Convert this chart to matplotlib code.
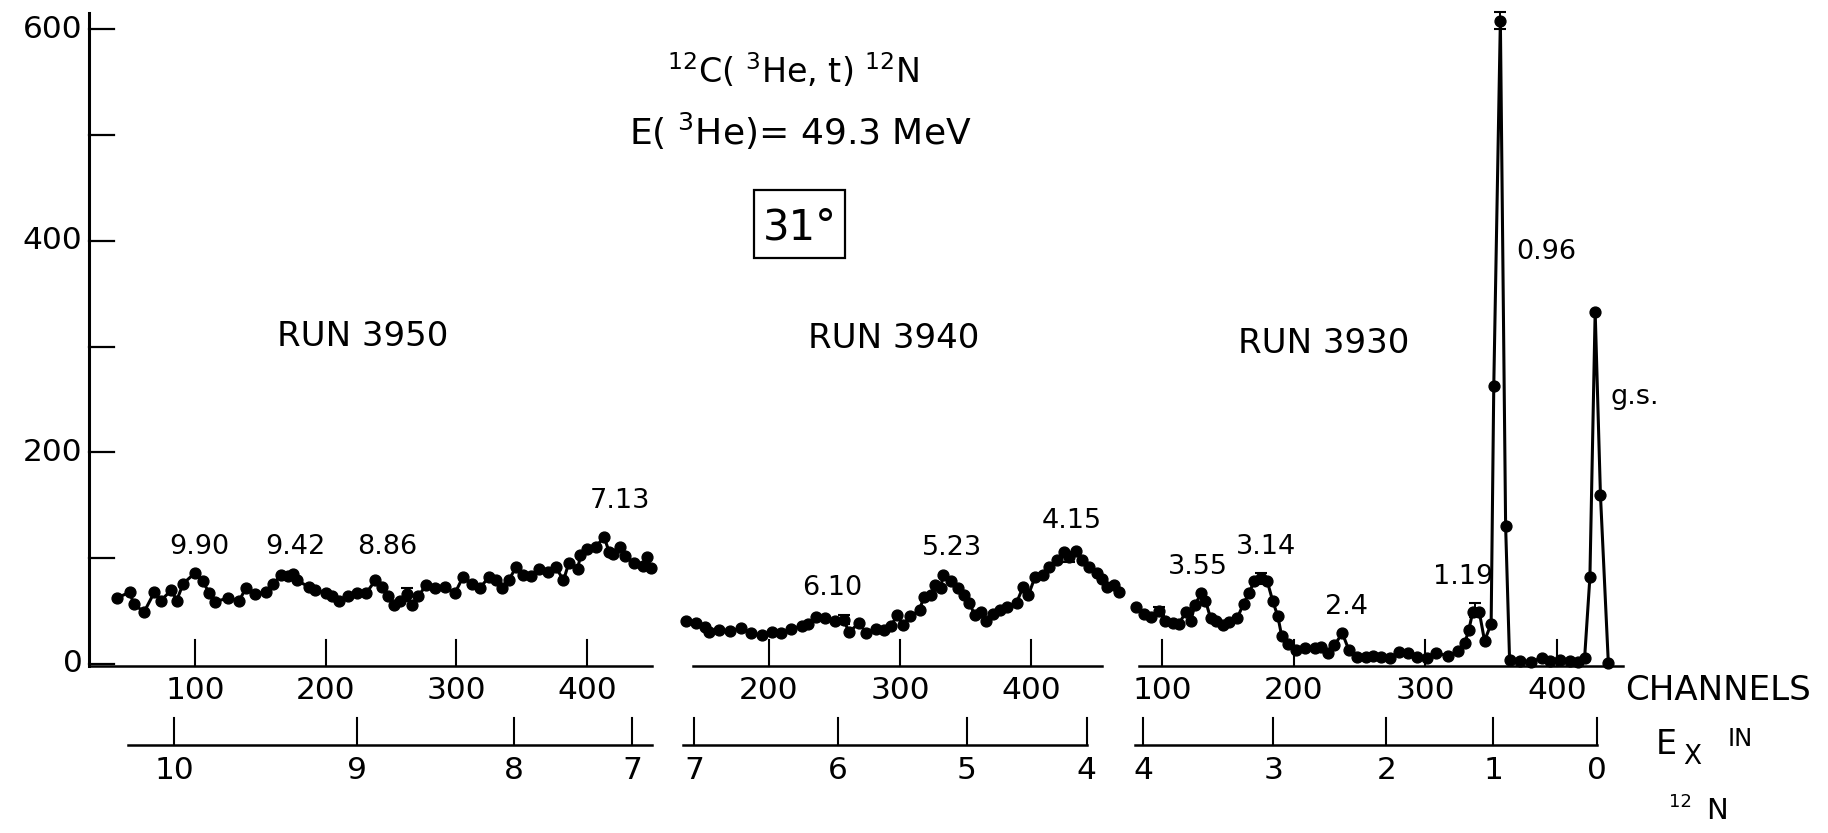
import matplotlib
matplotlib.use("Agg")
import matplotlib.pyplot as plt
from matplotlib.patches import Rectangle

plt.rcParams.update({
    "font.family": ["DejaVu Sans"],
    "mathtext.fontset": "dejavusans",
})

# ---------------------------------------------------------------------------
# Data: (channel, counts) for each run
# ---------------------------------------------------------------------------
RUN1_CH = [40, 50, 53, 61, 69, 74, 82, 86, 91, 100, 106, 111, 115, 125, 134, 139,
           146, 154, 160, 166, 171, 175, 178, 187, 192, 200, 205, 210, 217, 224,
           231, 238, 243, 248, 252, 257, 262, 266, 271, 277, 284, 291, 299, 305,
           312, 318, 325, 330, 335, 340, 346, 351, 357, 363, 370, 376, 382, 386,
           393, 395, 400, 407, 413, 417, 420, 425, 429, 436, 443, 446, 449]
RUN1_CT = [62, 68, 57, 49, 68, 60, 70, 60, 76, 86, 78, 67, 59, 62, 60, 72,
           66, 68, 76, 84, 83, 85, 79, 73, 70, 67, 64, 60, 64, 67,
           67, 79, 73, 64, 56, 60, 66, 56, 64, 75, 72, 73, 67, 82,
           76, 72, 82, 79, 72, 79, 92, 84, 83, 90, 87, 92, 79, 95,
           90, 103, 109, 111, 120, 106, 104, 111, 102, 95, 93, 101, 91]

RUN2_CH = [137, 144, 151, 154, 162, 170, 179, 186, 195, 202, 209, 217, 225, 230,
           236, 243, 250, 257, 261, 269, 274, 282, 288, 293, 298, 302, 308, 315,
           318, 324, 327, 331, 333, 339, 344, 349, 353, 357, 362, 366, 371, 376,
           382, 389, 394, 398, 403, 409, 414, 420, 425, 429, 434, 439, 444, 450,
           454, 458, 463, 467]
RUN2_CT = [41, 39, 35, 30, 32, 31, 34, 29, 27, 30, 29, 33, 36, 38,
           44, 43, 41, 42, 30, 39, 29, 33, 32, 36, 46, 37, 45, 51,
           63, 65, 75, 72, 84, 78, 72, 65, 58, 46, 49, 41, 47, 51,
           54, 58, 73, 65, 82, 84, 92, 98, 106, 101, 107, 98, 92, 86,
           80, 73, 75, 68]

RUN3_CH = [80, 86, 92, 98, 102, 108, 113, 118, 122, 125, 130, 133, 137, 141, 146,
           151, 157, 162, 166, 170, 175, 180, 184, 188, 191, 196, 202, 209, 216,
           221, 226, 231, 237, 242, 248, 255, 260, 266, 273, 280, 287, 294, 301,
           308, 317, 325, 330, 333, 336, 341, 345, 350, 352, 357, 361, 364, 372,
           380, 389, 395, 402, 410, 416, 421, 425, 429, 433, 439]
RUN3_CT = [54, 47, 44, 50, 41, 39, 38, 49, 41, 56, 67, 60, 43, 41, 37,
           40, 43, 57, 67, 78, 81, 78, 60, 45, 26, 19, 13, 15, 15,
           16, 10, 18, 29, 13, 7, 7, 8, 7, 6, 11, 10, 7, 6,
           10, 8, 12, 20, 32, 49, 49, 22, 38, 263, 608, 130, 4, 3,
           2, 6, 3, 4, 3, 2, 6, 82, 333, 160, 1]

# error bars drawn on selected points: channel, counts, +/- error
RUN1_ERR = ([262], [66], [6])
RUN2_ERR = ([257, 429], [42, 101], [4, 5])
RUN3_ERR = ([98, 175, 338, 357], [50, 81, 51, 608], [4, 5, 7, 8])

# channel ticks of each run
RUN1_CH_TICKS = [100, 200, 300, 400]
RUN2_CH_TICKS = [200, 300, 400]
RUN3_CH_TICKS = [100, 200, 300, 400]

# Ex (MeV) calibration ticks: label and channel where they sit
RUN1_EX = ["10", "9", "8", "7"]
RUN1_EX_CH = [84.0, 224.0, 344.2, 434.5]
RUN2_EX = ["7", "6", "5", "4"]
RUN2_EX_CH = [142.7, 252.7, 351.1, 442.7]
RUN3_EX = ["4", "3", "2", "1", "0"]
RUN3_EX_CH = [85.7, 184.4, 270.3, 351.5, 430.5]

# peak labels: text, channel, counts
RUN1_PEAKS = [("9.90", 103, 111), ("9.42", 177, 111), ("8.86", 247, 111), ("7.13", 425, 154)]
RUN2_PEAKS = [("6.10", 248, 72), ("5.23", 340, 110), ("4.15", 431, 135)]
RUN3_PEAKS = [("3.55", 127, 92), ("3.14", 179, 111), ("2.4", 240, 54),
              ("1.19", 329, 82), ("0.96", 392, 389), ("g.s.", 459, 252)]

Y_TICKS = [0, 100, 200, 300, 400, 500, 600]
Y_LABELS = ["0", "", "200", "", "400", "", "600"]

# ---------------------------------------------------------------------------
# Layout (pixels of the 1828x833 output)
# ---------------------------------------------------------------------------
W, H = 1828, 833
Y0 = 664          # pixel row of zero counts
K = 1.0583        # pixels per count
AX_Y = -2         # channel axis (counts units)
CH_TICK = 24.5
CH_LAB_Y = -24.6
EX_Y = -76.5
EX_TICK = 25.5
EX_LAB_Y = -100.5

fig = plt.figure(figsize=(W / 100, H / 100), dpi=100)
fig.patch.set_facecolor("white")


def panel_axes(px_left, px_right, ch0_px, px_per_ch):
    ax = fig.add_axes([px_left / W, 0, (px_right - px_left) / W, 1])
    ax.set_xlim((px_left - ch0_px) / px_per_ch, (px_right - ch0_px) / px_per_ch)
    ax.set_ylim(-(H - Y0) / K, Y0 / K)
    ax.axis("off")
    return ax


def draw_run(ax, ch, ct, err):
    ax.plot(ch, ct, "-", color="black", lw=2.2, clip_on=False, zorder=3)
    ax.plot(ch, ct, "o", color="black", ms=7.8, clip_on=False, zorder=4)
    ax.errorbar(err[0], err[1], yerr=err[2], fmt="none", ecolor="black",
                elinewidth=1.4, capsize=4.5, capthick=1.5, zorder=5)


def draw_channel_axis(ax, lo, hi, ticks):
    ax.plot([lo, hi], [AX_Y, AX_Y], color="black", lw=1.8, clip_on=False)
    for t in ticks:
        ax.plot([t, t], [AX_Y, AX_Y + CH_TICK], color="black", lw=1.5, clip_on=False)
        ax.text(t, CH_LAB_Y, str(t), ha="center", va="center", fontsize=22.5)


def draw_ex_axis(ax, lo, hi, labels, tick_ch):
    ax.plot([lo, hi], [EX_Y, EX_Y], color="black", lw=1.8, clip_on=False)
    for lab, t in zip(labels, tick_ch):
        ax.plot([t, t], [EX_Y, EX_Y + EX_TICK], color="black", lw=1.5, clip_on=False)
        ax.text(t, EX_LAB_Y, lab, ha="center", va="center", fontsize=22.5)


def draw_peaks(ax, peaks):
    for lab, c, y in peaks:
        ax.text(c, y, lab, ha="center", va="center", fontsize=19.5)


ax1 = panel_axes(0, 668, 64.3, 1.3067)
ax2 = panel_axes(668, 1126, 507.0, 1.31)
ax3 = panel_axes(1126, 1828, 1030.3, 1.3167)

# counts axis on the left of run 3950
y_axis_ch = 18.9
ax1.plot([y_axis_ch, y_axis_ch], [AX_Y, 615], color="black", lw=2.2, clip_on=False)
for v, lab in zip(Y_TICKS, Y_LABELS):
    ax1.plot([y_axis_ch, y_axis_ch + 19], [v, v], color="black", lw=1.6)
    if lab:
        ax1.text(14.0, v, lab, ha="right", va="center", fontsize=22.5)

draw_channel_axis(ax1, y_axis_ch, 449.8, RUN1_CH_TICKS)
draw_channel_axis(ax2, 142.0, 454.2, RUN2_CH_TICKS)
draw_channel_axis(ax3, 82.6, 450.2, RUN3_CH_TICKS)

draw_ex_axis(ax1, 48.8, 449.8, RUN1_EX, RUN1_EX_CH)
draw_ex_axis(ax2, 134.4, 442.7, RUN2_EX, RUN2_EX_CH)
draw_ex_axis(ax3, 79.6, 430.5, RUN3_EX, RUN3_EX_CH)

draw_run(ax1, RUN1_CH, RUN1_CT, RUN1_ERR)
draw_run(ax2, RUN2_CH, RUN2_CT, RUN2_ERR)
draw_run(ax3, RUN3_CH, RUN3_CT, RUN3_ERR)

draw_peaks(ax1, RUN1_PEAKS)
draw_peaks(ax2, RUN2_PEAKS)
draw_peaks(ax3, RUN3_PEAKS)

ax1.text(228, 309, "RUN 3950", ha="center", va="center", fontsize=24.5)
ax2.text(295, 308, "RUN 3940", ha="center", va="center", fontsize=24.5)
ax3.text(223, 303, "RUN 3930", ha="center", va="center", fontsize=24.5)


def ftext(x, y, s, **kw):
    fig.text(x / W, 1 - y / H, s, **kw)


# title block
ftext(793, 83, r"$^{12}$C( $^{3}$He, t) $^{12}$N", ha="center", va="baseline", fontsize=24)
ftext(800, 145, r"E( $^{3}$He)= 49.3 MeV", ha="center", va="baseline", fontsize=26)
ftext(800, 240, "31°", ha="center", va="baseline", fontsize=30)
fig.patches.append(Rectangle((754 / W, 1 - 258 / H), 91 / W, 68 / H,
                             transform=fig.transFigure, fill=False,
                             edgecolor="black", lw=1.6))

# axis names on the right
ftext(1625, 690, "CHANNELS", ha="left", va="center", fontsize=24.5)
ftext(1666, 745, "E", ha="center", va="center", fontsize=24)
ftext(1692, 757, "X", ha="center", va="center", fontsize=19)
ftext(1740, 739, "IN", ha="center", va="center", fontsize=17.5)
ftext(1680, 802, "12", ha="center", va="center", fontsize=13)
ftext(1717, 811, "N", ha="center", va="center", fontsize=21)

fig.savefig("out.png", dpi=100, facecolor="white")
